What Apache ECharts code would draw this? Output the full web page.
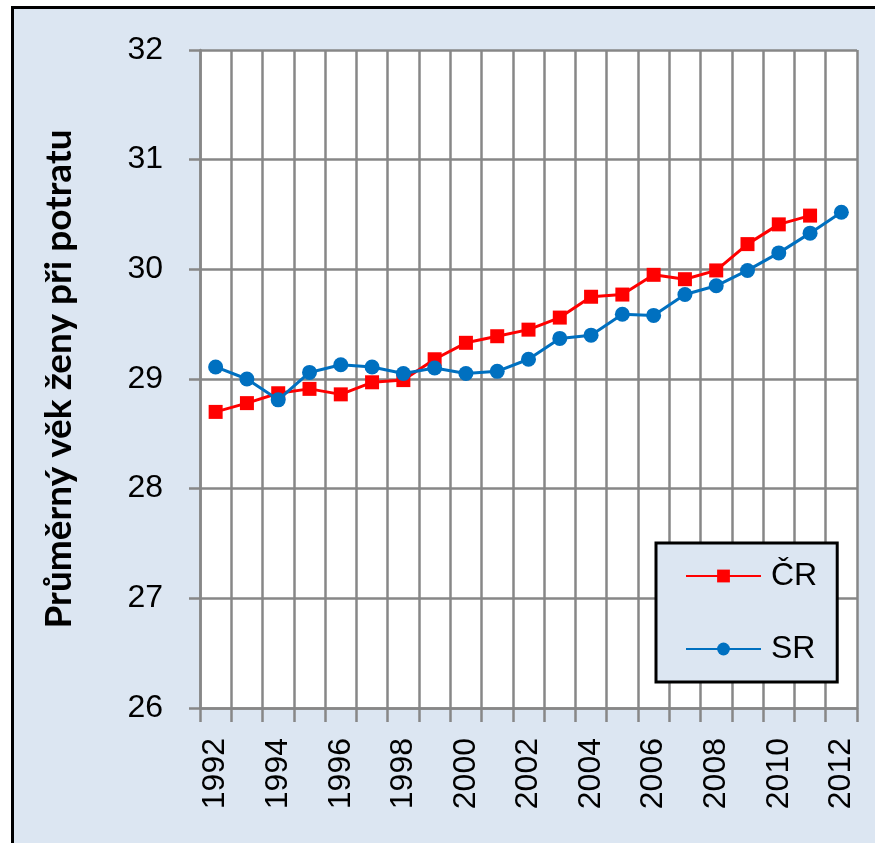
<!DOCTYPE html>
<html>
<head>
<meta charset="utf-8">
<script src="https://cdn.jsdelivr.net/npm/echarts@6/dist/echarts.min.js"></script>
<style>
  html, body { margin: 0; padding: 0; background: #fff; overflow: hidden; }
  #frame {
    position: absolute; left: 11px; top: 6px; width: 1000px; height: 1000px;
    background: #dce6f2; border: 3px solid #000;
  }
  #chart { position: absolute; left: 0; top: 0; width: 875px; height: 843px; }
</style>
</head>
<body>
<div id="frame"></div>
<div id="chart"></div>
<script>
const years = [
  '1992', '1993', '1994', '1995', '1996', '1997', '1998', '1999', '2000', '2001', '2002',
  '2003', '2004', '2005', '2006', '2007', '2008', '2009', '2010', '2011', '2012'
];
const cr = [
  28.70, 28.78, 28.87, 28.91, 28.86, 28.97, 28.99, 29.18, 29.33, 29.39, 29.45,
  29.56, 29.75, 29.77, 29.95, 29.91, 29.99, 30.23, 30.41, 30.49
];
const sr = [
  29.11, 29.00, 28.81, 29.06, 29.13, 29.11, 29.05, 29.10, 29.05, 29.07, 29.18,
  29.37, 29.40, 29.59, 29.58, 29.77, 29.85, 29.99, 30.15, 30.33, 30.52
];
const yTitle = 'Průměrný věk ženy při potratu';

const gridColor = '#878787';
const font = 'Liberation Sans, Arial, sans-serif';

const chart = echarts.init(document.getElementById('chart'), null, { renderer: 'canvas' });
chart.setOption({
  backgroundColor: 'transparent',
  animation: false,
  grid: {
    left: 200, right: 18, top: 50, bottom: 135,
    show: true, backgroundColor: '#fff', borderWidth: 0
  },
  legend: {
    orient: 'vertical',
    left: 656, top: 543,
    padding: [17, 20, 17, 29],
    itemGap: 41,
    itemWidth: 75,
    itemHeight: 16,
    backgroundColor: '#dce6f2',
    borderColor: '#000',
    borderWidth: 3,
    textStyle: { fontSize: 32, fontFamily: font, color: '#000', padding: [0, 0, 0, 5] },
    data: ['ČR', 'SR']
  },
  xAxis: {
    type: 'category',
    data: years,
    boundaryGap: true,
    axisLine: { lineStyle: { color: gridColor, width: 2.5 } },
    axisTick: { show: true, interval: 0, length: 14, lineStyle: { color: gridColor, width: 2.5 } },
    splitLine: { show: true, interval: 0, lineStyle: { color: gridColor, width: 2.5 } },
    axisLabel: {
      interval: 1, rotate: 90, margin: 30,
      fontSize: 32, fontFamily: font, color: '#000',
      padding: [10, 0, 0, 0]
    }
  },
  yAxis: {
    type: 'value',
    min: 26, max: 32, interval: 1,
    name: yTitle,
    nameLocation: 'middle',
    nameGap: 122,
    nameTextStyle: { fontSize: 37, fontWeight: 'bold', fontFamily: 'Lato, sans-serif', color: '#000' },
    axisLine: { show: true, lineStyle: { color: gridColor, width: 2.5 } },
    axisTick: { show: true, length: 11, lineStyle: { color: gridColor, width: 2.5 } },
    splitLine: { show: true, lineStyle: { color: gridColor, width: 2.5 } },
    axisLabel: { margin: 37, fontSize: 32, fontFamily: font, color: '#000' }
  },
  series: [
    {
      name: 'ČR',
      type: 'line',
      data: cr,
      symbol: 'rect',
      symbolSize: 14,
      color: '#ff0000',
      lineStyle: { color: '#ff0000', width: 3 },
      itemStyle: { color: '#ff0000' },
      z: 3
    },
    {
      name: 'SR',
      type: 'line',
      data: sr,
      symbol: 'circle',
      symbolSize: 15,
      color: '#0070c0',
      lineStyle: { color: '#0070c0', width: 3 },
      itemStyle: { color: '#0070c0' },
      z: 4
    }
  ]
});
</script>
</body>
</html>
